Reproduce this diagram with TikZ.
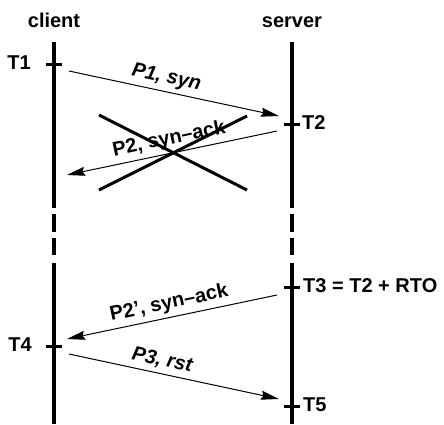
\documentclass[tikz,border=0pt]{standalone}
\usepackage{fontspec}
\setmainfont{Liberation Sans}
\usetikzlibrary{arrows.meta}

\begin{document}
\begin{tikzpicture}[x=1pt, y=-1pt,
    lifeline/.style={line width=4pt},
    tickmark/.style={line width=3pt},
    msg/.style={-{Stealth[length=18pt, width=9pt, inset=2pt]}, line width=1pt},
    cross/.style={line width=3pt},
    lbl/.style={font=\fontsize{20}{24}\selectfont\bfseries, inner sep=0pt},
    mlbl/.style={lbl, sloped, above=4pt, pos=0.45}
  ]
    \useasboundingbox (0,0) rectangle (444,424);

    % end points
    \node[lbl, anchor=base] (client) at (54,27) {client};
    \node[lbl, anchor=base] (server) at (292,27) {server};

    % lifelines, broken in the middle
    \draw[lifeline] (54,42) -- (54,208) (54,214) -- (54,232)
                    (54,238) -- (54,255) (54,263) -- (54,424);
    \draw[lifeline] (292,42) -- (292,208) (292,214) -- (292,232)
                    (292,238) -- (292,255) (292,263) -- (292,424);

    % time marks
    \foreach \name/\x/\y in {t1/54/64, t2/292/124, t3/292/287, t4/54/346, t5/292/406}
      \draw[tickmark] (\x-8,\y) -- (\x+8,\y) coordinate[pos=0.5] (\name);

    \node[lbl, anchor=east] (lt1) at ([xshift=-23pt,yshift=1pt]t1) {T1};
    \node[lbl, anchor=east] (lt4) at ([xshift=-22pt,yshift=1pt]t4) {T4};
    \node[lbl, anchor=west] (lt2) at ([xshift=10pt,yshift=1pt]t2) {T2};
    \node[lbl, anchor=west] (lt3) at ([xshift=11pt,yshift=1pt]t3) {T3 = T2 + RTO};
    \node[lbl, anchor=west] (lt5) at ([xshift=11pt,yshift=1pt]t5) {T5};

    % message ends
    \coordinate (p1a) at (69,71);   \coordinate (p1b) at (279,116);
    \coordinate (p2a) at (277,131); \coordinate (p2b) at (67,175);
    \coordinate (q2a) at (277,295); \coordinate (q2b) at (67,339);
    \coordinate (p3a) at (69,354);  \coordinate (p3b) at (279,399);

    \draw[msg] (p1a) -- (p1b) node[mlbl]{\itshape P1, syn};
    \draw[msg] (p2a) -- (p2b) node[mlbl, pos=0.5]{P2, syn--ack};
    \draw[msg] (q2a) -- (q2b) node[mlbl, pos=0.5]{P2', syn--ack};
    \draw[msg] (p3a) -- (p3b) node[mlbl, pos=0.43]{\itshape P3, rst};

    % lost packet
    \coordinate (xa) at (99,115);  \coordinate (xb) at (247,190);
    \coordinate (xc) at (99,190);  \coordinate (xd) at (247,116);
    \draw[cross] (xa) -- (xb);
    \draw[cross] (xc) -- (xd);
  \end{tikzpicture}
\end{document}
